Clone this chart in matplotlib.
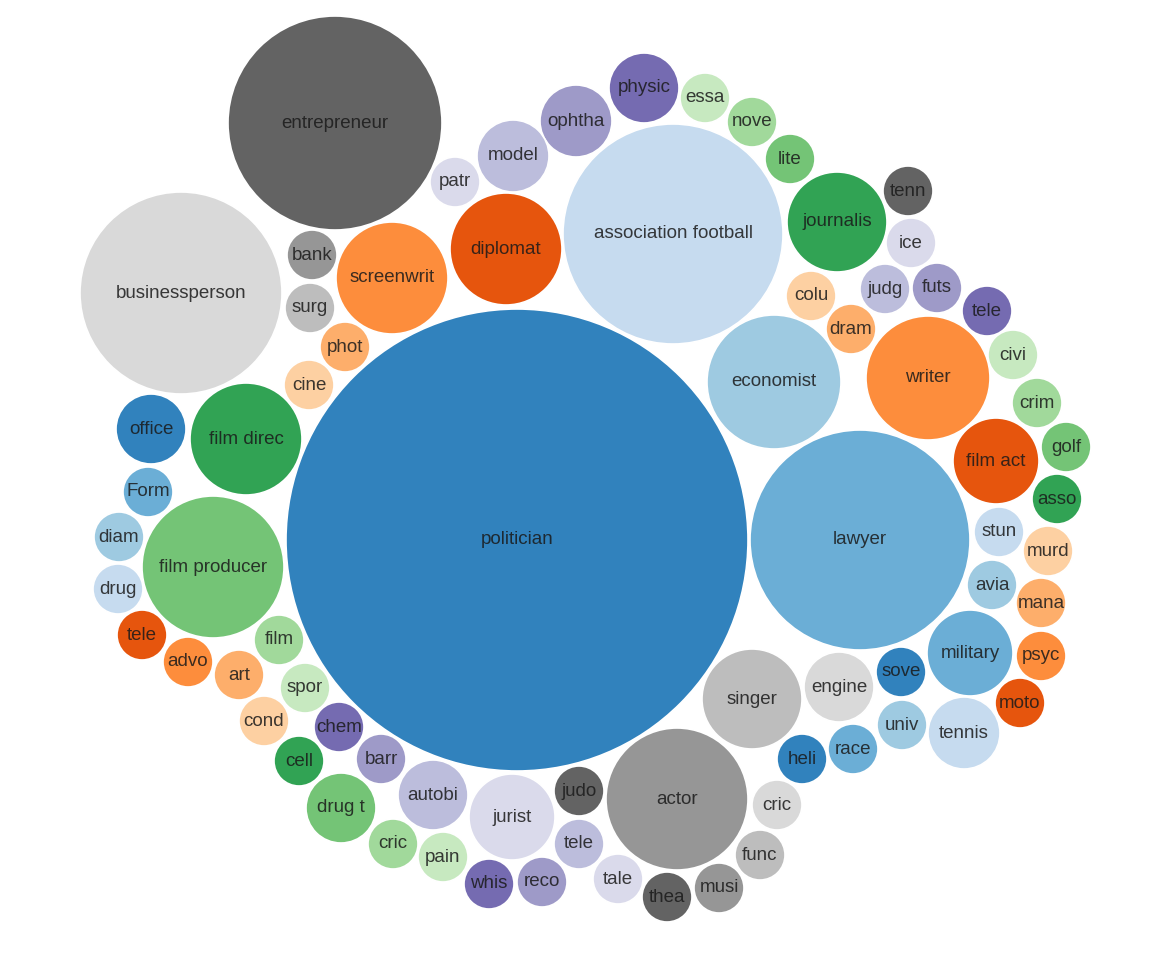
import matplotlib.pyplot as plt
from matplotlib.patches import Circle

# occupation bubbles: label, layout centre (x, y), radius, colour
labels = [
    "politician", "association football", "lawyer", "entrepreneur", "businessperson",
    "film producer", "actor", "economist", "writer", "diplomat", "screenwrit",
    "film direc", "singer", "journalis", "military", "jurist", "film act",
    "ophtha", "model", "physic", "engine", "tennis", "autobi", "drug t", "office",
    "patr", "essa", "nove", "lite", "tenn", "ice", "judg", "futs", "tele",
    "colu", "dram", "civi", "crim", "golf", "asso", "stun", "murd", "avia",
    "mana", "psyc", "moto", "sove", "univ", "race", "heli", "cric", "func",
    "musi", "thea", "tale", "judo", "tele", "reco", "whis", "pain", "cric",
    "barr", "cell", "chem", "cond", "spor", "art", "film", "advo", "tele",
    "drug", "diam", "Form", "cine", "phot", "surg", "bank",
]
x = [
    517, 673, 860, 335, 181,
    213, 677, 774, 928, 506, 392,
    246, 752, 837, 970, 512, 996,
    576, 513, 644, 839, 964, 433, 341, 151,
    455, 705, 752, 790, 908, 911, 885, 937, 987,
    811, 851, 1013, 1037, 1066, 1057, 999, 1048, 992,
    1041, 1041, 1020, 901, 902, 853, 802, 777, 760,
    719, 667, 618, 579, 579, 542, 489, 443, 393,
    381, 299, 339, 264, 305, 239, 279, 188, 142,
    118, 119, 148, 309, 345, 310, 312,
]
y = [
    540, 234, 540, 123, 293,
    567, 799, 382, 378, 249, 278,
    439, 699, 222, 653, 817, 461,
    121, 156, 88, 687, 733, 795, 808, 429,
    182, 98, 122, 159, 191, 243, 289, 288, 311,
    296, 329, 355, 403, 447, 499, 532, 551, 585,
    603, 656, 703, 672, 725, 749, 759, 805, 855,
    888, 897, 879, 791, 844, 882, 884, 857, 844,
    759, 761, 727, 721, 688, 675, 640, 662, 635,
    589, 537, 492, 385, 347, 308, 255,
]
radius = [
    231, 110, 110, 107, 101,
    71, 71, 67, 62, 56, 56,
    56, 50, 50, 43, 43, 43,
    36, 36, 35, 35, 36, 35, 35, 35,
    25, 25, 25, 25, 25, 25, 25, 25, 25,
    25, 25, 25, 25, 25, 25, 25, 25, 25,
    25, 25, 25, 25, 25, 25, 25, 25, 25,
    25, 25, 25, 25, 25, 25, 25, 25, 25,
    25, 25, 25, 25, 25, 25, 25, 25, 25,
    25, 25, 25, 25, 25, 25, 25,
]
# index into the tab20c palette
color_idx = [
    0, 3, 1, 16, 19,
    9, 17, 2, 5, 4, 5,
    8, 18, 8, 1, 15, 4,
    13, 14, 12, 19, 3, 14, 9, 0,
    15, 11, 10, 9, 16, 15, 14, 13, 12,
    7, 6, 11, 10, 9, 8, 3, 7, 2,
    6, 5, 4, 0, 2, 1, 0, 19, 18,
    17, 16, 15, 16, 14, 13, 12, 11, 10,
    13, 8, 12, 7, 11, 6, 10, 5, 4,
    3, 2, 1, 7, 6, 18, 17,
]

palette = plt.get_cmap("tab20c").colors

fig = plt.figure(figsize=(11.6, 9.59), dpi=100)
ax = fig.add_axes([0, 0, 1, 1])
ax.set_xlim(0, 1160)
ax.set_ylim(959, 0)
ax.set_aspect("equal")
ax.axis("off")

for lab, cx, cy, r, ci in zip(labels, x, y, radius, color_idx):
    ax.add_patch(Circle((cx, cy), r, facecolor=palette[ci], edgecolor="white",
                        linewidth=1.2))
    ax.text(cx, cy, lab, ha="center", va="center", fontsize=13.5,
            family="Liberation Sans", color="#1a1a1a", alpha=0.85)

fig.savefig("out.png", dpi=100, facecolor="white")
